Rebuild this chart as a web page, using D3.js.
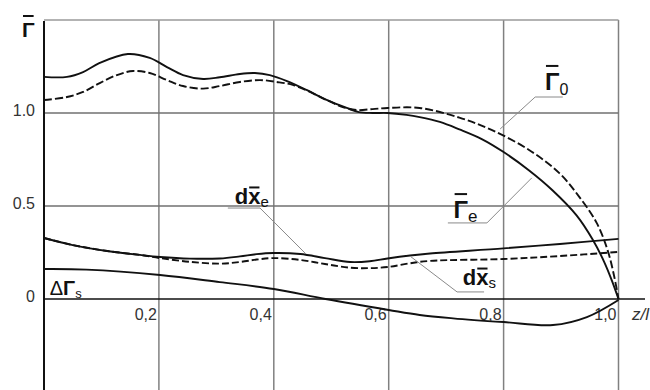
<!DOCTYPE html>
<html>
<head>
<meta charset="utf-8">
<script src="https://cdn.jsdelivr.net/npm/d3@7"></script>
<style>
  body { margin: 0; background: #fff; }
  svg { display: block; font-family: "Liberation Sans", Arial, sans-serif; }
</style>
</head>
<body>
<div class="chart"></div>
<script>
// curves, [z/l, value]
const gammaE = [[0,1.194],[0.04,1.194],[0.068,1.22],[0.097,1.269],[0.146,1.317],[0.184,1.296],[0.214,1.247],
  [0.242,1.204],[0.277,1.183],[0.306,1.192],[0.341,1.21],[0.367,1.215],[0.393,1.204],[0.423,1.172],[0.457,1.124],
  [0.492,1.07],[0.527,1.027],[0.548,1.005],[0.572,1.0],[0.598,1.0],[0.631,0.99],[0.654,0.978],[0.689,0.952],
  [0.723,0.912],[0.762,0.86],[0.8,0.79],[0.845,0.69],[0.885,0.585],[0.927,0.45],[0.955,0.32],[0.975,0.2],[0.989,0.095],[1.0,0]];
const gamma0 = [[0,1.07],[0.04,1.086],[0.068,1.113],[0.097,1.161],[0.127,1.204],[0.155,1.226],[0.184,1.215],
  [0.214,1.177],[0.242,1.145],[0.277,1.131],[0.306,1.145],[0.341,1.167],[0.376,1.177],[0.405,1.167],[0.433,1.151],
  [0.463,1.113],[0.492,1.07],[0.52,1.032],[0.544,1.016],[0.572,1.021],[0.598,1.027],[0.654,1.027],[0.723,0.975],
  [0.779,0.909],[0.845,0.8],[0.897,0.677],[0.932,0.548],[0.962,0.409],[0.981,0.263],[0.992,0.129],[1.0,0]];
const dxE = [[0,0.328],[0.05,0.29],[0.11,0.258],[0.167,0.237],[0.202,0.226],[0.254,0.217],[0.306,0.218],
  [0.341,0.229],[0.37,0.241],[0.399,0.247],[0.446,0.242],[0.489,0.22],[0.533,0.199],[0.567,0.203],[0.598,0.218],
  [0.637,0.234],[0.672,0.245],[0.8,0.272],[0.898,0.296],[1.0,0.323]];
const dxS = [[0,0.328],[0.05,0.29],[0.11,0.258],[0.167,0.237],[0.202,0.22],[0.254,0.2],[0.306,0.19],
  [0.341,0.199],[0.37,0.212],[0.399,0.22],[0.446,0.21],[0.489,0.188],[0.533,0.168],[0.567,0.166],[0.598,0.172],
  [0.637,0.192],[0.672,0.205],[0.8,0.215],[0.898,0.231],[1.0,0.253]];
const dGammaS = [[0,0.161],[0.074,0.158],[0.202,0.129],[0.306,0.091],[0.4,0.054],[0.49,0],[0.6,-0.059],
  [0.654,-0.086],[0.712,-0.104],[0.8,-0.124],[0.886,-0.14],[0.945,-0.097],[1.0,-0.005]];

const xTicks = [0.2, 0.4, 0.6, 0.8, 1.0];
const xTickLabels = ["0,2", "0,4", "0,6", "0,8", "1,0"];
const yTicks = [0, 0.5, 1.0];
const yTickLabels = ["0", "0.5", "1.0"];

const width = 650, height = 390;
const svg = d3.select(".chart").append("svg")
  .attr("width", width)
  .attr("height", height);

const x = d3.scaleLinear().domain([0, 1]).range([44, 618.5]);
const y = d3.scaleLinear().domain([-0.5, 1.5]).range([392, 20]);

// grid
svg.selectAll(".vgrid")
  .data(xTicks)
  .enter().append("line")
  .attr("x1", d => x(d)).attr("x2", d => x(d))
  .attr("y1", y(1.5)).attr("y2", height)
  .attr("stroke", "#808080")
  .attr("stroke-width", 1.5);

svg.selectAll(".hgrid")
  .data([0.5, 1.0, 1.5])
  .enter().append("line")
  .attr("x1", x(0)).attr("x2", x(1))
  .attr("y1", d => y(d)).attr("y2", d => y(d))
  .attr("stroke", d => d === 1.5 ? "#9a9a9a" : "#707070")
  .attr("stroke-width", 1.5);

// axes
svg.append("line")
  .attr("x1", x(0)).attr("x2", x(0))
  .attr("y1", y(1.5) + 1).attr("y2", height)
  .attr("stroke", "#111")
  .attr("stroke-width", 2);

svg.append("line")
  .attr("x1", x(0)).attr("x2", 645)
  .attr("y1", y(0)).attr("y2", y(0))
  .attr("stroke", "#111")
  .attr("stroke-width", 1.6);

// tick labels
svg.selectAll(".xlab")
  .data(xTicks)
  .enter().append("text")
  .attr("x", d => x(d) - 2)
  .attr("y", y(0) + 21)
  .attr("text-anchor", "end")
  .attr("font-size", "16px")
  .attr("fill", "#333")
  .text((d, i) => xTickLabels[i]);

svg.selectAll(".ylab")
  .data(yTicks)
  .enter().append("text")
  .attr("x", x(0) - 9)
  .attr("y", d => y(d) + 3)
  .attr("text-anchor", "end")
  .attr("font-size", "16px")
  .attr("fill", "#333")
  .text((d, i) => yTickLabels[i]);

svg.append("text")
  .attr("x", 632)
  .attr("y", y(0) + 21)
  .attr("font-size", "17px")
  .attr("font-style", "italic")
  .attr("fill", "#333")
  .text("z/l");

// curves
const line = d3.line()
  .x(d => x(d[0]))
  .y(d => y(d[1]))
  .curve(d3.curveCatmullRom.alpha(0.5));

const curves = [
  { data: gammaE, dash: null },
  { data: gamma0, dash: "8,3" },
  { data: dxE, dash: null },
  { data: dxS, dash: "7,3" },
  { data: dGammaS, dash: null }
];

svg.selectAll(".curve")
  .data(curves)
  .enter().append("path")
  .attr("d", d => line(d.data))
  .attr("fill", "none")
  .attr("stroke", "#111")
  .attr("stroke-width", 1.9)
  .attr("stroke-dasharray", d => d.dash);

// leader lines for labels, [z/l, value] points
const leaders = [
  [[0.903, 1.086], [0.855, 1.086], [0.794, 0.914]],
  [[0.703, 0.409], [0.771, 0.409], [0.849, 0.651]],
  [[0.320, 0.489], [0.376, 0.489], [0.456, 0.242]],
  [[0.766, 0.038], [0.719, 0.038], [0.637, 0.231]]
];

svg.selectAll(".leader")
  .data(leaders)
  .enter().append("path")
  .attr("d", d3.line().x(d => x(d[0])).y(d => y(d[1])))
  .attr("fill", "none")
  .attr("stroke", "#8a8a8a")
  .attr("stroke-width", 1);

// labels made of parts: main text, overlined letter, subscript
function label(px, py, size, parts, barK) {
  const t = svg.append("text")
    .attr("x", px)
    .attr("y", py)
    .attr("font-size", size + "px")
    .attr("fill", "#111");
  let idx = 0;
  const bars = [];
  parts.forEach(p => {
    const s = t.append("tspan").text(p.t);
    if (p.bold) s.attr("font-weight", "bold");
    if (p.sub) s.attr("font-size", p.sub + "px").attr("dy", p.dy || 4).attr("dx", p.dx || 0);
    if (p.bar) bars.push(idx);
    idx += p.t.length;
  });
  bars.forEach(i => {
    const e = t.node().getExtentOfChar(i);
    svg.append("line")
      .attr("x1", e.x + 1).attr("x2", e.x + e.width - 1)
      .attr("y1", py - barK * size).attr("y2", py - barK * size)
      .attr("stroke", "#111")
      .attr("stroke-width", 2);
  });
}

label(22, 37, 21, [{ t: "Γ", bold: true, bar: true }], 1.0);
label(x(0.872), y(1.124), 24, [{ t: "Γ", bold: true, bar: true }, { t: "0", sub: 16, dy: 5, dx: 0 }], 1.0);
label(x(0.713), y(0.435), 24, [{ t: "Γ", bold: true, bar: true }, { t: "e", sub: 17, dy: 4, dx: 0 }], 1.0);
label(x(0.332), y(0.511), 22, [{ t: "d", bold: true }, { t: "x", bold: true, bar: true }, { t: "e", sub: 15, dy: 3 }], 0.75);
label(x(0.729), y(0.075), 22, [{ t: "d", bold: true }, { t: "x", bold: true, bar: true }, { t: "s", sub: 15, dy: 3 }], 0.75);
label(x(0.010), y(0.022), 20, [{ t: "Δ" }, { t: "Γ", bold: true }, { t: "s", sub: 13, dy: 3 }], 0);
</script>
</body>
</html>
